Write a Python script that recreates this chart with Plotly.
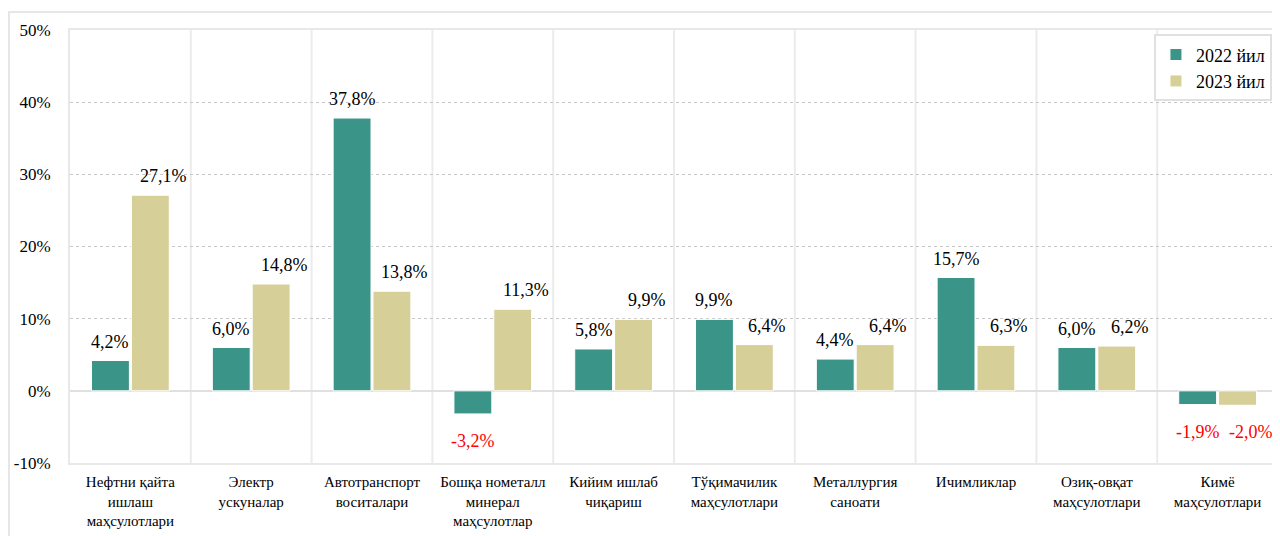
import plotly.graph_objects as go

categories = [
    "Нефтни қайта<br>ишлаш<br>маҳсулотлари",
    "Электр<br>ускуналар",
    "Автотранспорт<br>воситалари",
    "Бошқа нометалл<br>минерал<br>маҳсулотлар",
    "Кийим ишлаб<br>чиқариш",
    "Тўқимачилик<br>маҳсулотлари",
    "Металлургия<br>саноати",
    "Ичимликлар",
    "Озиқ-овқат<br>маҳсулотлари",
    "Кимё<br>маҳсулотлари",
]
values_2022 = [4.2, 6.0, 37.8, -3.2, 5.8, 9.9, 4.4, 15.7, 6.0, -1.9]
values_2023 = [27.1, 14.8, 13.8, 11.3, 9.9, 6.4, 6.4, 6.3, 6.2, -2.0]
series_names = ["2022 йил", "2023 йил"]
y_ticks = [-10, 0, 10, 20, 30, 40, 50]

FONT = "'Liberation Serif', 'Times New Roman', serif"
colors = ["#3b9488", "#d6cf98"]
BARGAP = 0.34
BARGROUPGAP = 0.05
LABEL_XSHIFT = [0, 13]


def fmt(v):
    return f"{v:.1f}%".replace(".", ",")


fig = go.Figure()
annotations = []
n_series = 2
slot = (1 - BARGAP) / n_series
for s, (name, vals, col) in enumerate(zip(series_names, [values_2022, values_2023], colors)):
    fig.add_trace(go.Bar(
        x=list(range(len(categories))),
        y=vals,
        name=name,
        marker=dict(color=col, line=dict(color="white", width=1)),
    ))
    offset = -(1 - BARGAP) / 2 + slot * (s + 0.5)
    for i, v in enumerate(vals):
        annotations.append(dict(
            x=i + offset, y=v, xref="x", yref="y",
            text=fmt(v), showarrow=False,
            xanchor="center", yanchor="middle",
            xshift=LABEL_XSHIFT[s], yshift=19 if v >= 0 else -27,
            font=dict(family=FONT, size=18, color="red" if v < 0 else "black"),
        ))

shapes = []
for i in range(1, len(categories)):
    shapes.append(dict(type="line", xref="x", yref="paper", x0=i - 0.5, x1=i - 0.5,
                       y0=0, y1=1, line=dict(color="#ebebeb", width=2), layer="below"))
# outer chart frame
shapes.append(dict(type="rect", xref="paper", yref="paper",
                   x0=-0.0505, x1=1.0005, y0=-0.2, y1=1.0416,
                   line=dict(color="#e6e6e6", width=2), layer="below"))

fig.update_layout(
    width=1272, height=528,
    margin=dict(l=62, r=2, t=22, b=73, autoexpand=False),
    paper_bgcolor="white", plot_bgcolor="white",
    barmode="group", bargap=BARGAP, bargroupgap=BARGROUPGAP,
    font=dict(family=FONT, size=16, color="black"),
    showlegend=True,
    legend=dict(x=0.995, y=0.99, xanchor="right", yanchor="top",
                bordercolor="#e0e0e0", borderwidth=2, bgcolor="white",
                font=dict(family=FONT, size=18), itemwidth=30,
                tracegroupgap=4),
    shapes=shapes,
    annotations=annotations,
)
fig.update_xaxes(
    tickvals=list(range(len(categories))), ticktext=categories,
    range=[-0.5, len(categories) - 0.5],
    tickfont=dict(family=FONT, size=15),
    showgrid=False, showline=True, linecolor="#e8e8e8", linewidth=2, mirror=True,
    ticks="", zeroline=False, ticklabelstandoff=4,
)
fig.update_yaxes(
    range=[-10, 50], tickvals=y_ticks, ticktext=[f"{t}%" for t in y_ticks],
    tickfont=dict(family=FONT, size=17),
    showgrid=True, gridcolor="#c8c8c8", griddash="dot", gridwidth=1,
    zeroline=True, zerolinecolor="#e0e0e0", zerolinewidth=2,
    showline=True, linecolor="#e8e8e8", linewidth=2, mirror=True,
    ticks="", ticklabelstandoff=14,
)

fig.write_html("out.html")
